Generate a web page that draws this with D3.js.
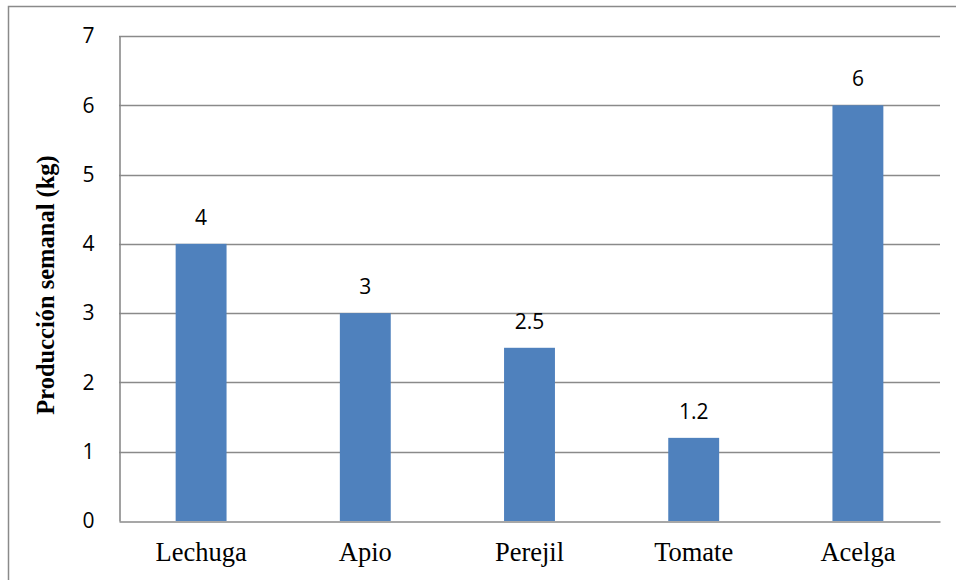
<!DOCTYPE html>
<html>
<head>
<meta charset="utf-8">
<script src="https://cdn.jsdelivr.net/npm/d3@7"></script>
<style>
  html, body { margin: 0; padding: 0; background: #fff; }
  svg { display: block; }
</style>
</head>
<body>
<svg id="chart" width="956" height="580"></svg>
<script>
// Weekly production per crop (kg)
const categories = ["Lechuga", "Apio", "Perejil", "Tomate", "Acelga"];
const values = [4, 3, 2.5, 1.2, 6];
const valueLabels = ["4", "3", "2.5", "1.2", "6"];
const yTicks = [0, 1, 2, 3, 4, 5, 6, 7];
const yTitle = "Producción semanal (kg)";

const svg = d3.select("#chart");
const W = 956, H = 580;
const plot = { left: 119, right: 940, top: 36, bottom: 521 };
const sansFont = "'Open Sans', 'DejaVu Sans', sans-serif";
const serifFont = "'Liberation Serif', 'Times New Roman', serif";

// Outer chart frame (continues past the right and bottom edges)
svg.append("path")
  .attr("d", `M8.5,${H} V6.5 H${W}`)
  .attr("fill", "none")
  .attr("stroke", "#8a8a8a")
  .attr("stroke-width", 1.5);

const x = d3.scaleBand()
  .domain(categories)
  .range([plot.left, plot.right])
  .paddingInner(0.69)
  .paddingOuter(0.345);

const y = d3.scaleLinear()
  .domain([0, 7])
  .range([plot.bottom, plot.top]);

// Horizontal gridlines
svg.append("g")
  .selectAll("line")
  .data(yTicks.filter(t => t > 0))
  .join("line")
  .attr("x1", plot.left)
  .attr("x2", plot.right)
  .attr("y1", d => Math.round(y(d)) + 0.5)
  .attr("y2", d => Math.round(y(d)) + 0.5)
  .attr("stroke", "#8a8a8a")
  .attr("stroke-width", 1.6);

// Bars
svg.append("g")
  .selectAll("rect")
  .data(categories.map((c, i) => ({ c, v: values[i] })))
  .join("rect")
  .attr("x", d => x(d.c))
  .attr("width", x.bandwidth())
  .attr("y", d => y(d.v))
  .attr("height", d => y(0) - y(d.v))
  .attr("fill", "#4f81bd");

// Y axis
const yAxis = svg.append("g")
  .attr("transform", `translate(${plot.left + 0.5},0)`)
  .call(d3.axisLeft(y).tickValues(yTicks).tickFormat(d3.format("d")).tickSize(0).tickPadding(25));
yAxis.select(".domain").attr("stroke", "#8a8a8a").attr("stroke-width", 1.6);
yAxis.selectAll("text")
  .attr("font-family", sansFont)
  .attr("font-size", 21)
  .attr("fill", "#000");

// X axis
const xAxis = svg.append("g")
  .attr("transform", `translate(0,${plot.bottom + 0.5})`)
  .call(d3.axisBottom(x).tickSize(0).tickPadding(0));
xAxis.select(".domain").attr("stroke", "#8a8a8a").attr("stroke-width", 1.6);
xAxis.selectAll("text")
  .attr("dy", null)
  .attr("y", 39.5)
  .attr("font-family", serifFont)
  .attr("font-size", 26.5)
  .attr("fill", "#000");

// Value labels above bars
svg.append("g")
  .selectAll("text")
  .data(categories.map((c, i) => ({ c, v: values[i], t: valueLabels[i] })))
  .join("text")
  .attr("x", d => x(d.c) + x.bandwidth() / 2)
  .attr("y", d => y(d.v) - 19)
  .attr("text-anchor", "middle")
  .attr("font-family", sansFont)
  .attr("font-size", 21)
  .attr("fill", "#000")
  .text(d => d.t);

// Y axis title
svg.append("text")
  .attr("transform", "translate(54,285) rotate(-90)")
  .attr("text-anchor", "middle")
  .attr("font-family", serifFont)
  .attr("font-weight", "bold")
  .attr("font-size", 24.5)
  .attr("fill", "#000")
  .text(yTitle);
</script>
</body>
</html>
